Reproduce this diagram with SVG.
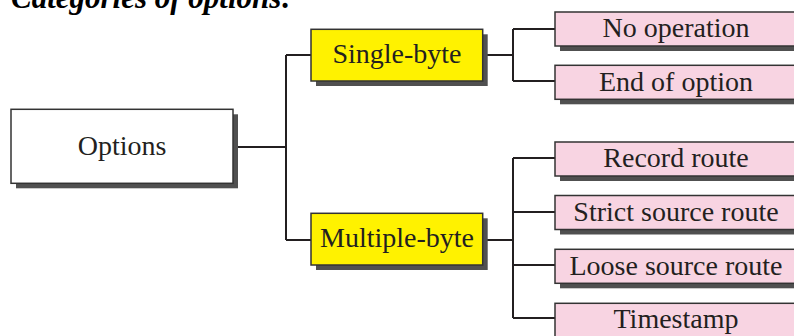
<svg xmlns="http://www.w3.org/2000/svg" width="794" height="336" viewBox="0 0 794 336">
<style>
.sh{fill:#505050}
.box{stroke:#333;stroke-width:1.5}
.w{fill:#fff}
.y{fill:#fff200}
.p{fill:#f8d4e2}
.t{font-family:"Liberation Serif","Times New Roman",serif;font-size:28px;fill:#231f20;text-anchor:middle}
.title{font-family:"Liberation Serif","Times New Roman",serif;font-size:31px;font-weight:bold;font-style:italic;fill:#000}
.c{fill:none;stroke:#231f20;stroke-width:2}
</style>
<rect width="794" height="336" fill="#fff"/>
<text class="title" x="11" y="7.5">Categories of options:</text>
<g id="connectors">
<path class="c" d="M238,147 H286 M286,55 V240 M286,55 H311 M286,240 H311"/>
<path class="c" d="M487,55 H513 M513,29 V81 M513,29 H555 M513,81 H555"/>
<path class="c" d="M487,240 H513 M513,158 V318 M513,158 H555 M513,212 H555 M513,265 H555 M513,318 H555"/>
</g>
<g id="options">
<rect class="sh" x="16" y="114.3" width="222" height="74"/>
<rect class="box w" x="11" y="109.3" width="222" height="74"/>
<text class="t" x="122" y="155">Options</text>
</g>
<g id="single-byte">
<rect class="sh" x="316" y="34.3" width="171.7" height="51.7"/>
<rect class="box y" x="311" y="29.3" width="171.7" height="51.7"/>
<text class="t" x="397" y="63">Single-byte</text>
</g>
<g id="multiple-byte">
<rect class="sh" x="316" y="218.3" width="171.7" height="51.7"/>
<rect class="box y" x="311" y="213.3" width="171.7" height="51.7"/>
<text class="t" x="397" y="247">Multiple-byte</text>
</g>
<g id="no-operation">
<rect class="sh" x="560" y="17" width="245" height="34"/>
<rect class="box p" x="555" y="12" width="245" height="34"/>
<text class="t" x="676" y="37">No operation</text>
</g>
<g id="end-of-option">
<rect class="sh" x="560" y="70.3" width="245" height="34"/>
<rect class="box p" x="555" y="65.3" width="245" height="34"/>
<text class="t" x="676" y="90.5">End of option</text>
</g>
<g id="record-route">
<rect class="sh" x="560" y="147" width="245" height="34"/>
<rect class="box p" x="555" y="142" width="245" height="34"/>
<text class="t" x="676" y="167">Record route</text>
</g>
<g id="strict-source-route">
<rect class="sh" x="560" y="200.5" width="245" height="34"/>
<rect class="box p" x="555" y="195.5" width="245" height="34"/>
<text class="t" x="676" y="220.5">Strict source route</text>
</g>
<g id="loose-source-route">
<rect class="sh" x="560" y="254.3" width="245" height="34"/>
<rect class="box p" x="555" y="249.3" width="245" height="34"/>
<text class="t" x="676" y="274.5">Loose source route</text>
</g>
<g id="timestamp">
<rect class="sh" x="560" y="308.3" width="245" height="34"/>
<rect class="box p" x="555" y="303.3" width="245" height="34"/>
<text class="t" x="676" y="328">Timestamp</text>
</g>
</svg>
